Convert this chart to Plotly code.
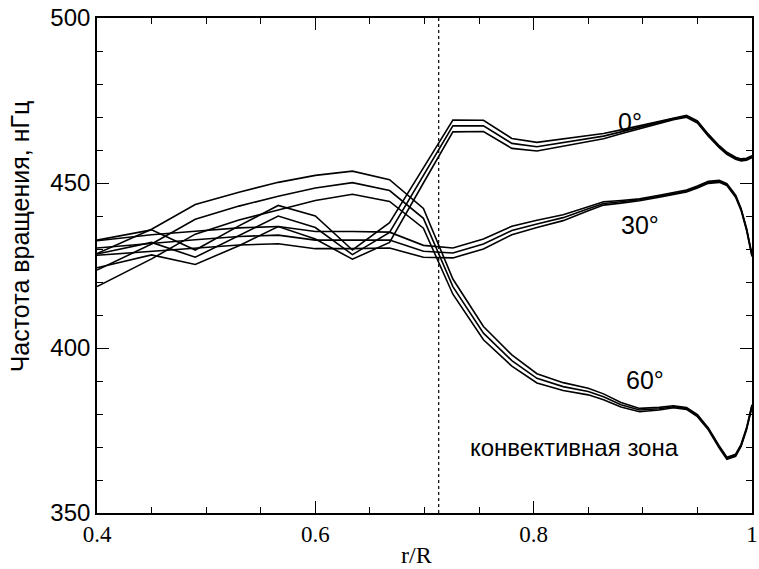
import plotly.graph_objects as go

# radius grid (r/R)
r_grid = [0.40, 0.45, 0.49, 0.53, 0.566, 0.60, 0.634, 0.668, 0.699, 0.726,
          0.754, 0.78, 0.803, 0.827, 0.85, 0.864, 0.88, 0.897, 0.915, 0.928,
          0.94, 0.95, 0.96, 0.97, 0.977, 0.985, 0.99, 0.995, 1.0]

# rotation rate (nHz) and 1-sigma half-widths, latitude 0°
rate_0 = [428.5, 432, 427.5, 434, 440, 436.5, 428.3, 435, 452.3, 467.3,
          467.3, 462.0, 461.0, 462.2, 463.3, 464.2, 465.5, 466.9, 468.3, 469.5,
          470.2, 468.5, 464.5, 461, 459, 457.5, 457, 457.2, 458]
err_0 = [4.2, 3.8, 2.2, 3, 3.2, 3.5, 1.4, 3, 2.3, 1.8,
         1.7, 1.5, 1.3, 1.1, 0.9, 0.8, 0.6, 0.5, 0.4, 0.3,
         0.3, 0.3, 0.3, 0.3, 0.3, 0.3, 0.3, 0.3, 0.3]

# latitude 30°
rate_30 = [430.3, 431.8, 432.8, 433.8, 434.2, 432.7, 432.7, 432.7, 429.3, 428.8,
           431.5, 435.6, 437.6, 439.5, 442.2, 443.8, 444.3, 444.9, 446, 446.8,
           447.6, 448.8, 450.2, 450.5, 449.5, 446, 442, 436, 428]
err_30 = [2.2, 2.5, 2.6, 2.6, 2.6, 2.6, 2.6, 2.4, 1.8, 1.5,
          1.5, 1.3, 1.1, 0.9, 0.6, 0.5, 0.4, 0.3, 0.3, 0.3,
          0.3, 0.3, 0.3, 0.3, 0.3, 0.3, 0.3, 0.3, 0.3]

# latitude 60°
rate_60 = [423.6, 431.5, 439, 443, 446, 448.5, 450.1, 447.7, 439.3, 418.6,
           404.5, 396.2, 390.8, 388.3, 386.8, 385.2, 382.8, 381.2, 381.6, 382.2,
           381.7, 379.5, 375.5, 370, 366.6, 367.5, 370.5, 375.5, 382.5]
err_60 = [5, 4.5, 4.5, 4.2, 4.2, 3.8, 3.5, 3.3, 3, 2.3,
          2.0, 1.7, 1.4, 1.2, 1.0, 0.9, 0.7, 0.5, 0.4, 0.3,
          0.3, 0.3, 0.3, 0.3, 0.3, 0.3, 0.3, 0.3, 0.3]

series = [("0°", rate_0, err_0), ("30°", rate_30, err_30), ("60°", rate_60, err_60)]

# labels
curve_labels = ["0°", "30°", "60°"]
label_r = [0.888, 0.897, 0.902]
label_rate = [468.5, 437.3, 390.3]
zone_text = "конвективная зона"
zone_r, zone_rate = 0.8377, 370.0
tachocline_r = 0.713

x_tickvals = [0.4, 0.6, 0.8, 1.0]
x_ticktext = ["0.4", "0.6", "0.8", "1"]
y_tickvals = [350, 400, 450, 500]

fig = go.Figure()
line_style = dict(color="black", width=1.6)
for name, rate, err in series:
    upper = [v + e for v, e in zip(rate, err)]
    lower = [v - e for v, e in zip(rate, err)]
    for ys in (upper, rate, lower):
        fig.add_trace(go.Scatter(x=r_grid, y=ys, mode="lines", line=line_style,
                                 showlegend=False, hoverinfo="skip", name=name))

fig.add_shape(type="line", x0=tachocline_r, x1=tachocline_r, y0=350, y1=500,
              xref="x", yref="y", line=dict(color="black", width=1.2, dash="dot"))

for t, xx, yy in zip(curve_labels, label_r, label_rate):
    fig.add_annotation(x=xx, y=yy, text=t, showarrow=False, xanchor="center", yanchor="middle",
                       font=dict(family="Liberation Sans, Arial, sans-serif", size=25, color="black"))

fig.add_annotation(x=zone_r, y=zone_rate, text=zone_text, showarrow=False,
                   xanchor="center", yanchor="middle",
                   font=dict(family="Liberation Sans, Arial, sans-serif", size=24, color="black"))

fig.add_annotation(xref="paper", yref="paper", x=-0.117, y=0.5596,
                   text="Частота вращения, нГц", textangle=-90, showarrow=False,
                   xanchor="center", yanchor="middle",
                   font=dict(family="Liberation Sans, Arial, sans-serif", size=25, color="black"))
fig.add_annotation(xref="paper", yref="paper", x=0.4885, y=-0.085,
                   text="r/R", showarrow=False, xanchor="center", yanchor="middle",
                   font=dict(family="Liberation Serif, Times New Roman, serif", size=24, color="black"))

axis_common = dict(showgrid=False, zeroline=False, showline=True, linecolor="black",
                   linewidth=1.6, mirror="allticks", ticks="inside", ticklen=12,
                   tickwidth=1.4, tickcolor="black", automargin=False)

fig.update_xaxes(range=[0.4, 1.0], tickmode="array", tickvals=x_tickvals, ticktext=x_ticktext,
                 tickfont=dict(family="Liberation Serif, Times New Roman, serif", size=23, color="black"),
                 minor=dict(tick0=0.4, dtick=0.05, ticks="inside", ticklen=6, tickwidth=1.2,
                            tickcolor="black", showgrid=False),
                 **axis_common)
fig.update_yaxes(range=[350, 500], tickmode="array", tickvals=y_tickvals,
                 tickfont=dict(family="Liberation Sans, Arial, sans-serif", size=24, color="black"),
                 minor=dict(tick0=350, dtick=10, ticks="inside", ticklen=6, tickwidth=1.2,
                            tickcolor="black", showgrid=False),
                 **axis_common)

fig.update_layout(width=759, height=569, margin=dict(l=97, r=7, t=18, b=56),
                  plot_bgcolor="white", paper_bgcolor="white", showlegend=False)

fig.write_html("out.html", config={"displayModeBar": False},
               post_script="document.body.style.margin='0px';document.body.style.overflow='hidden';")
